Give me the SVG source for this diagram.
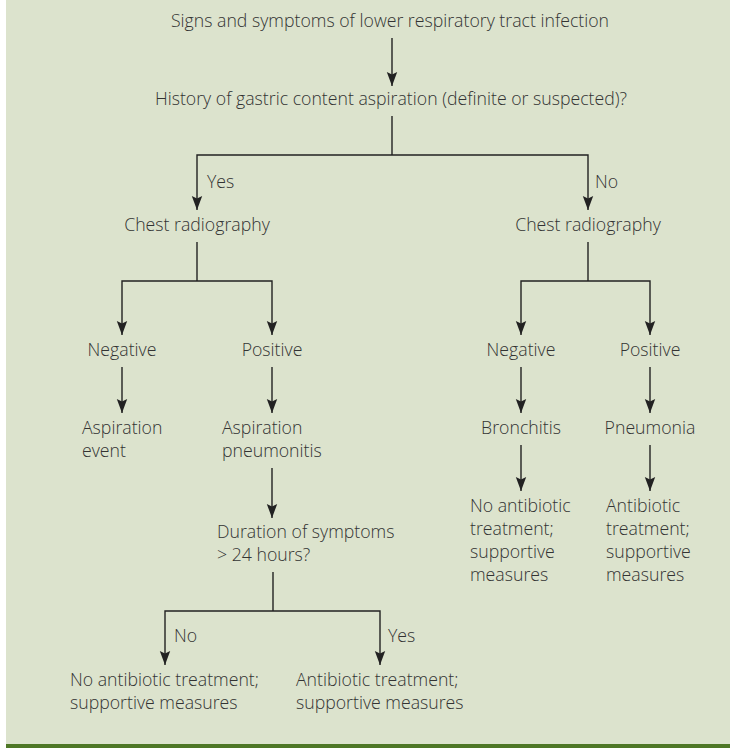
<svg xmlns="http://www.w3.org/2000/svg" width="730" height="748" viewBox="0 0 730 748">
<style>
text{font-family:"Open Sans","Liberation Sans",sans-serif;font-size:17.7px;font-weight:300;fill:#333}
.c{text-anchor:middle}
.ln{stroke:#222;stroke-width:1.4;fill:none}
</style>
<defs>
<marker id="ah" markerUnits="userSpaceOnUse" markerWidth="16" markerHeight="12" viewBox="0 0 16 12" refX="15" refY="6" orient="auto-start-reverse">
<path d="M1,0.8 L15,6 L1,11.2 L3.5,6 Z" fill="#222"/>
</marker>
</defs>
<rect x="0" y="0" width="730" height="748" fill="#ffffff"/>
<rect x="6" y="0" width="724" height="744" fill="#dce3cd"/>
<rect x="6" y="744" width="724" height="4" fill="#4e7726"/>

<g id="connectors">
<line class="ln" x1="392" y1="38" x2="392" y2="86" marker-end="url(#ah)"/>
<polyline class="ln" points="392,116 392,155"/>
<polyline class="ln" points="197,210 197,155 588,155 588,210" marker-start="url(#ah)" marker-end="url(#ah)"/>
<polyline class="ln" points="197,242 197,281"/>
<polyline class="ln" points="122,335 122,281 272,281 272,335" marker-start="url(#ah)" marker-end="url(#ah)"/>
<polyline class="ln" points="588,242 588,281"/>
<polyline class="ln" points="521,335 521,281 650,281 650,335" marker-start="url(#ah)" marker-end="url(#ah)"/>
<line class="ln" x1="122" y1="367" x2="122" y2="413" marker-end="url(#ah)"/>
<line class="ln" x1="272" y1="367" x2="272" y2="413" marker-end="url(#ah)"/>
<line class="ln" x1="521" y1="367" x2="521" y2="413" marker-end="url(#ah)"/>
<line class="ln" x1="650" y1="367" x2="650" y2="413" marker-end="url(#ah)"/>
<line class="ln" x1="521" y1="445" x2="521" y2="491" marker-end="url(#ah)"/>
<line class="ln" x1="650" y1="445" x2="650" y2="491" marker-end="url(#ah)"/>
<line class="ln" x1="272" y1="468" x2="272" y2="518" marker-end="url(#ah)"/>
<polyline class="ln" points="273,572 273,611"/>
<polyline class="ln" points="165,665 165,611 380,611 380,665" marker-start="url(#ah)" marker-end="url(#ah)"/>
</g>

<g id="edge-labels">
<text x="207" y="188">Yes</text>
<text x="595" y="188">No</text>
<text x="174" y="642">No</text>
<text x="388" y="642">Yes</text>
</g>

<g id="n-signs"><text class="c" x="390" y="27">Signs and symptoms of lower respiratory tract infection</text></g>
<g id="n-history"><text class="c" x="391" y="105">History of gastric content aspiration (definite or suspected)?</text></g>
<g id="n-chest-yes"><text class="c" x="197" y="231">Chest radiography</text></g>
<g id="n-chest-no"><text class="c" x="588" y="231">Chest radiography</text></g>
<g id="n-neg-left"><text class="c" x="122" y="356">Negative</text></g>
<g id="n-pos-left"><text class="c" x="272" y="356">Positive</text></g>
<g id="n-neg-right"><text class="c" x="521" y="356">Negative</text></g>
<g id="n-pos-right"><text class="c" x="650" y="356">Positive</text></g>
<g id="n-asp-event"><text x="82" y="434">Aspiration</text><text x="82" y="457">event</text></g>
<g id="n-asp-pneumonitis"><text x="222" y="434">Aspiration</text><text x="222" y="457">pneumonitis</text></g>
<g id="n-bronchitis"><text class="c" x="521" y="434">Bronchitis</text></g>
<g id="n-pneumonia"><text class="c" x="650" y="434">Pneumonia</text></g>
<g id="n-noabx-right"><text x="470" y="512">No antibiotic</text><text x="470" y="535">treatment;</text><text x="470" y="558">supportive</text><text x="470" y="581">measures</text></g>
<g id="n-abx-right"><text x="606" y="512">Antibiotic</text><text x="606" y="535">treatment;</text><text x="606" y="558">supportive</text><text x="606" y="581">measures</text></g>
<g id="n-duration"><text x="217" y="538">Duration of symptoms</text><text x="217" y="561">&gt; 24 hours?</text></g>
<g id="n-noabx-left"><text x="70" y="686">No antibiotic treatment;</text><text x="70" y="709">supportive measures</text></g>
<g id="n-abx-left"><text x="296" y="686">Antibiotic treatment;</text><text x="296" y="709">supportive measures</text></g>
</svg>
